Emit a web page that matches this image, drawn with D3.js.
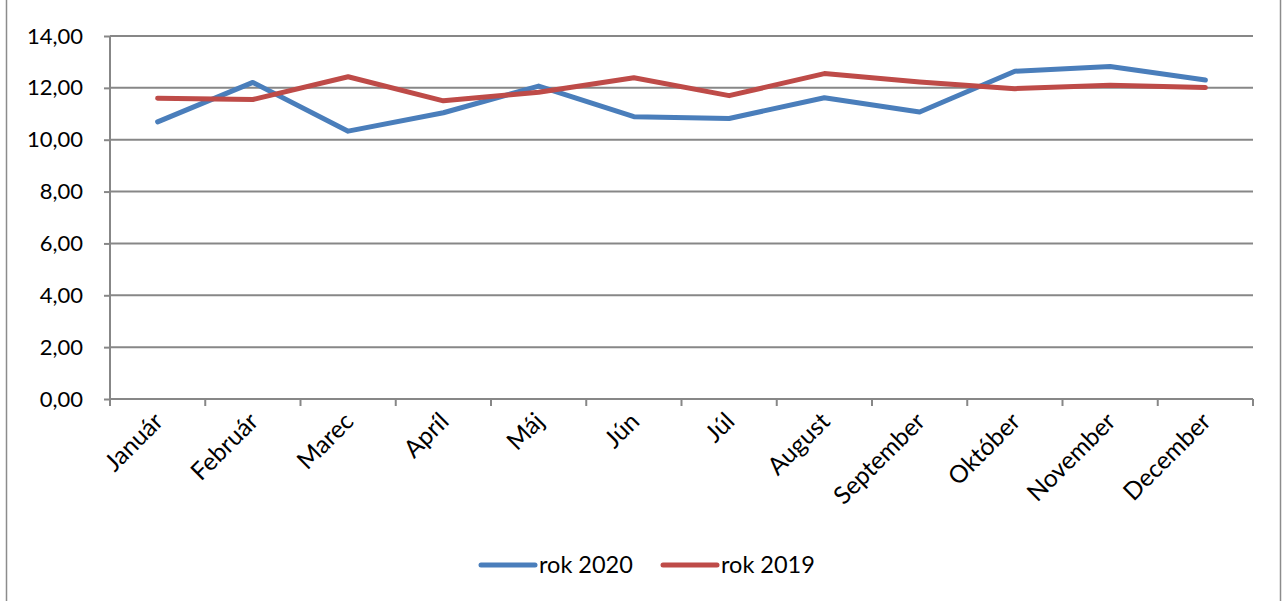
<!DOCTYPE html>
<html>
<head>
<meta charset="utf-8">
<script src="https://cdn.jsdelivr.net/npm/d3@7"></script>
<style>
  body { margin: 0; background: #fff; }
  text { font-family: Lato, "Open Sans", sans-serif; fill: #000; }
</style>
</head>
<body>
<script>
// Chart data
var months = ["Január", "Február", "Marec", "Apríl", "Máj", "Jún", "Júl", "August", "September", "Október", "November", "December"];
var rok2020 = [10.69, 12.21, 10.33, 11.04, 12.07, 10.89, 10.82, 11.62, 11.07, 12.64, 12.82, 12.3];
var rok2019 = [11.6, 11.55, 12.43, 11.5, 11.83, 12.39, 11.7, 12.55, 12.23, 11.97, 12.1, 12.01];
var yTicks = [0, 2, 4, 6, 8, 10, 12, 14];
var seriesNames = ["rok 2020", "rok 2019"];
var colors = ["#4a7ebb", "#be4b48"];

var svgWidth = 1285;
var svgHeight = 601;

var margin = { top: 36, right: 32, bottom: 202, left: 110 };
var chartWidth = 1253 - margin.left;
var chartHeight = 399 - margin.top;

var svg = d3.select("body")
  .append("svg")
  .attr("width", svgWidth)
  .attr("height", svgHeight);

// outer chart frame (top/bottom fall outside the picture)
svg.append("rect")
  .attr("x", 6.5).attr("y", -2)
  .attr("width", 1274).attr("height", svgHeight + 4)
  .attr("fill", "none")
  .attr("stroke", "#8c8c8c")
  .attr("stroke-width", 1.5);

var chartGroup = svg.append("g")
  .attr("transform", `translate(${margin.left}, ${margin.top})`);

var xScale = d3.scaleBand()
  .domain(months)
  .range([0, chartWidth]);

var yScale = d3.scaleLinear()
  .domain([0, 14])
  .range([chartHeight, 0]);

// gridlines
chartGroup.append("g")
  .selectAll("line")
  .data(yTicks.filter(d => d > 0))
  .enter()
  .append("line")
  .attr("x1", 0).attr("x2", chartWidth)
  .attr("y1", d => yScale(d)).attr("y2", d => yScale(d))
  .attr("stroke", "#878787")
  .attr("stroke-width", 2);

// y axis
var leftAxis = d3.axisLeft(yScale)
  .tickValues(yTicks)
  .tickSize(6)
  .tickPadding(21)
  .tickFormat(d => d3.format(".2f")(d).replace(".", ","));

var yAxisG = chartGroup.append("g").call(leftAxis);
yAxisG.select(".domain").attr("stroke", "#878787").attr("stroke-width", 2).attr("d", `M0,0V${chartHeight}`);
yAxisG.selectAll(".tick line").attr("stroke", "#878787").attr("stroke-width", 2);
yAxisG.selectAll("text")
  .style("font-size", "22px")
  .style("font-family", "Lato, 'Open Sans', sans-serif");

// x axis with ticks at band edges
var xAxisG = chartGroup.append("g")
  .attr("transform", `translate(0, ${chartHeight})`);

xAxisG.append("line")
  .attr("x1", 0).attr("x2", chartWidth)
  .attr("stroke", "#878787").attr("stroke-width", 2);

xAxisG.selectAll(".edge")
  .data(d3.range(months.length + 1))
  .enter()
  .append("line")
  .attr("x1", i => i * xScale.bandwidth())
  .attr("x2", i => i * xScale.bandwidth())
  .attr("y1", 0).attr("y2", 7)
  .attr("stroke", "#878787").attr("stroke-width", 2);

xAxisG.selectAll(".lbl")
  .data(months)
  .enter()
  .append("text")
  .attr("transform", d => `translate(${xScale(d) + xScale.bandwidth() / 2 + 7}, 24) rotate(-45)`)
  .attr("text-anchor", "end")
  .style("font-size", "24.5px")
  .text(d => d);

// lines
var drawLine = d3.line()
  .x((d, i) => xScale(months[i]) + xScale.bandwidth() / 2)
  .y(d => yScale(d));

[rok2020, rok2019].forEach(function(series, i) {
  chartGroup.append("path")
    .datum(series)
    .attr("d", drawLine)
    .attr("fill", "none")
    .attr("stroke", colors[i])
    .attr("stroke-width", 5)
    .attr("stroke-linejoin", "round")
    .attr("stroke-linecap", "round");
});

// legend
var legendX = [481, 663];
seriesNames.forEach(function(name, i) {
  var g = svg.append("g").attr("transform", `translate(${legendX[i]}, 565)`);
  g.append("line")
    .attr("x1", 0).attr("x2", 54)
    .attr("stroke", colors[i])
    .attr("stroke-width", 5)
    .attr("stroke-linecap", "round");
  g.append("text")
    .attr("x", 58).attr("y", 8)
    .style("font-size", "23.5px")
    .text(name);
});
</script>
</body>
</html>
